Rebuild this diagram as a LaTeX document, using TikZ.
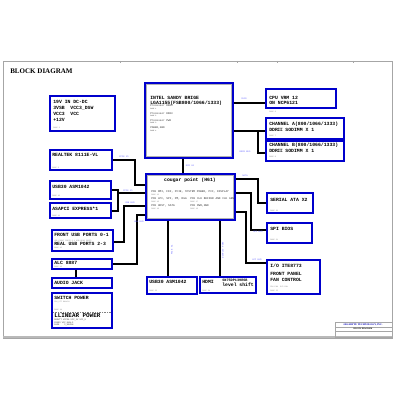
\documentclass[tikz,border=0pt]{standalone}
\usepackage{fontspec}
\setmainfont{Liberation Serif}
\setmonofont{Liberation Mono}
\usetikzlibrary{fit,positioning}

\tikzset{
  blk/.style={draw=blue!80!black, line width=0.9pt, inner sep=0pt},
  chip/.style={blk, line width=1pt},
  txt/.style={font=\ttfamily\bfseries\fontsize{3.4}{4}\selectfont, anchor=west, inner sep=0pt, align=left},
  small/.style={font=\ttfamily\fontsize{1.9}{2.3}\selectfont, anchor=west, inner sep=0pt, align=left, text=black!80},
  pg/.style={font=\ttfamily\fontsize{1.3}{1.5}\selectfont, anchor=west, inner sep=0pt, text=gray},
  bus/.style={font=\ttfamily\fontsize{1.6}{2}\selectfont, inner sep=0pt, text=blue!60},
  wire/.style={line width=0.8pt, black}
}

\begin{document}
\begin{tikzpicture}[x=0.025cm, y=-0.025cm]
\useasboundingbox[fill=white] (0,0) rectangle (400,400);

% sheet frame
\draw[gray!70, line width=0.4pt] (3,61) rectangle (392,338);
\draw[gray!55, line width=1.6pt] (3,337) -- (392,337);
\foreach \tx in {120,237,277,353} \draw[gray!70, line width=0.4pt] (\tx,61) -- (\tx,63);
\node[font=\bfseries\fontsize{5}{6}\selectfont, anchor=west, inner sep=0pt] (title) at (10,71) {BLOCK DIAGRAM};

% boxes
\node[blk, fit={(50,96) (115,131)}] (dcdc) {};
\node[chip, fit={(145,83) (233,158)}] (cpu) {};
\draw[gray!60, line width=0.4pt] ([shift={(2,2)}]cpu.north west) rectangle ([shift={(-2,-2)}]cpu.south east);
\node[blk, fit={(266,89) (336,108)}] (vrm) {};
\node[blk, fit={(266,118) (344,139)}] (chA) {};
\node[blk, fit={(266,141) (344,161)}] (chB) {};
\node[blk, fit={(50,150) (112,170)}] (lan) {};
\node[blk, fit={(50,181) (111,199)}] (usbl) {};
\node[blk, fit={(50,203) (111,218)}] (asap) {};
\node[blk, fit={(52,230) (113,251)}] (usbp) {};
\node[blk, fit={(52,259) (112,269)}] (alc) {};
\node[blk, fit={(52,278) (112,288)}] (jack) {};
\node[blk, fit={(52,293) (112,328)}] (pwr) {};
\node[chip, fit={(146,174) (235,220)}] (pch) {};
\draw[gray!60, line width=0.4pt] ([shift={(2,2)}]pch.north west) rectangle ([shift={(-2,-2)}]pch.south east);
\node[blk, fit={(267,193) (313,213)}] (sata) {};
\node[blk, fit={(267,223) (312,243)}] (spi) {};
\node[blk, fit={(267,260) (320,294)}] (sio) {};
\node[blk, fit={(147,277) (197,294)}] (usbb) {};
\node[blk, fit={(200,277) (256,293)}] (hdmi) {};
\node[draw=gray!70, line width=0.4pt, fit={(335,322) (392,337)}, inner sep=0pt] (tblock) {};

% box texts
\node[txt] (dcdc-a) at (53,101.5) {19V IN DC-DC};
\node[txt] (dcdc-b) at (53,114) {3VSB~~VCC3\_DSW\\VCC3~~VCC\\+12V};
\node[pg] (dcdc-p) at (53,128) {PAGE 5};
\node[txt] (cpu-a) at (150,101) {INTEL SANDY BRIGE\\LGA1155(FSB800/1066/1333)};
\node[small, align=left] (cpu-b) at (150,118) {Processor DDR3\\[-0.6pt]{\fontsize{1.2}{1.3}\selectfont PAGE 1}\\[1.2pt]Processor DDR3\\[-0.6pt]{\fontsize{1.2}{1.3}\selectfont PAGE 2}\\[1.2pt]Processor PWR\\[-0.6pt]{\fontsize{1.2}{1.3}\selectfont PAGE 3}\\[1.2pt]POWER,GND\\[-0.6pt]{\fontsize{1.2}{1.3}\selectfont PAGE 4}};
\node[txt] (vrm-a) at (269,100.5) {CPU VRM 12\\ON NCP6121};
\node[pg] (vrm-p) at (269,112) {PAGE 6};
\node[txt] (chA-a) at (269,126.5) {CHANNEL A(800/1066/1333)\\DDR\scalebox{0.55}[1]{III} SODIMM X 1};
\node[pg] (chA-p) at (269,136) {PAGE 7};
\node[txt] (chB-a) at (269,148) {CHANNEL B(800/1066/1333)\\DDR\scalebox{0.55}[1]{III} SODIMM X 1};
\node[pg] (chB-p) at (269,157) {PAGE 8};
\node[txt] (lan-a) at (52,154.5) {REALTEK 8111E-VL};
\node[pg] (lan-p) at (52,168) {PAGE 9};
\node[txt] (usbl-a) at (52,186.5) {USB30 ASM1042};
\node[pg] (usbl-p) at (52,196) {PAGE 10};
\node[txt] (asap-a) at (52,208.5) {ASAPCI EXPRESS*1};
\node[pg] (asap-p) at (52,216) {PAGE 11};
\node[txt] (usbp-a) at (54,235) {FRONT USB PORTS 0-1};
\node[pg] (usbp-q) at (54,240.5) {USB FRONT PORTS 0-1 USB REAR PORTS};
\node[txt] (usbp-b) at (54,244) {REAL USB PORTS 2-3};
\node[pg] (usbp-p) at (54,248) {PAGE 12};
\node[txt] (alc-a) at (54,263) {ALC 8887};
\node[pg] (alc-p) at (54,267.3) {PAGE 13};
\node[txt] (jack-a) at (54,283) {AUDIO JACK};
\node[txt] (pwr-a) at (54,297.5) {SWITCH POWER};
\node[pg] (pwr-b) at (54,302) {CPU\_VTT DUAL3V};
\node[pg] (pwr-c) at (54,310) {PAGE 14};
\draw[gray, line width=0.2pt, dash pattern=on 0.6pt off 0.6pt] (53,312) -- (111,312);
\node[txt, font=\ttfamily\bfseries\fontsize{4.2}{5}\selectfont] (pwr-d) at (54,316) {LLINEAR POWER};
\node[small, font=\ttfamily\fontsize{1.5}{1.8}\selectfont] (pwr-e) at (54,322.5) {DDRVTT VCCSA VCC\_1V VCC\_5\\FDDR3 VCC\_DUAL3\\PAGE~~~~1\_05VMH};
\node[txt, anchor=center] (pch-a) at (190,180) {cougar point (H61)};
\node[small, font=\ttfamily\fontsize{2}{2.3}\selectfont] (pch-b) at (151,192) {PCH DMI, FDI, PCIE, SYSTEM POWER, PCI, DISPLAY};
\node[small, font=\ttfamily\fontsize{2}{2.3}\selectfont] (pch-c) at (151,199) {PCH LPC, SPI, PM, RGA};
\node[small, font=\ttfamily\fontsize{2}{2.3}\selectfont] (pch-d) at (190,199) {PCH CLK BUFFER AND CLK GEN};
\node[small, font=\ttfamily\fontsize{2}{2.3}\selectfont] (pch-e) at (151,206) {PCH HOST, SATA};
\node[small, font=\ttfamily\fontsize{2}{2.3}\selectfont] (pch-f) at (190,206) {PCH PWR,GND};
\node[pg] (pch-p1) at (151,195) {PAGE 15};
\node[pg] (pch-p2) at (151,202) {PAGE 16};
\node[pg] (pch-p3) at (190,202) {PAGE 17};
\node[pg] (pch-p4) at (151,209) {PAGE 18};
\node[pg] (pch-p5) at (190,209) {PAGE 19};
\node[txt] (sata-a) at (270,200) {SERIAL ATA X2};
\node[pg] (sata-p) at (270,211) {PAGE 20};
\node[txt] (spi-a) at (270,229) {SPI BIOS};
\node[pg] (spi-p) at (270,240) {PAGE 21};
\node[txt] (sio-a) at (270,265.5) {I/O ITE8773};
\node[txt] (sio-b) at (270,277) {FRONT PANEL\\FAN CONTROL};
\node[pg] (sio-c) at (270,287) {CPU FAN~~SYS FAN};
\node[pg] (sio-p) at (270,291) {PAGE 22};
\node[txt] (usbb-a) at (149,282) {USB30 ASM1042};
\node[pg] (usbb-p) at (149,291) {PAGE 23};
\node[txt] (hdmi-a) at (202,281.5) {HDMI};
\node[txt, font=\ttfamily\bfseries\fontsize{2.5}{3}\selectfont] (hdmi-b) at (222,280) {SN75DP139RSB};
\node[txt] (hdmi-c) at (222,285) {level shift};
\node[pg] (hdmi-p) at (202,291) {PAGE 24};

% title block
\draw[gray!70, line width=0.3pt] (335,327) -- (392,327) (335,331) -- (392,331);
\node[font=\bfseries\fontsize{1.8}{2}\selectfont, text=blue!70!black, inner sep=0pt] (tb-a) at (363,324.5) {GIGABYTE TECHNOLOGY, INC.};
\node[font=\bfseries\fontsize{1.5}{2}\selectfont, inner sep=0pt] (tb-b) at (363,329) {BLOCK DIAGRAM};

% connections
\draw[wire] (cpu.east |- 0,103) -- (vrm.west |- 0,103);
\draw[wire] (cpu.east |- 0,131) -- (chA.west |- 0,131);
\draw[wire] (258,131) -- (258,153) -- (chB.west |- 0,153);
\draw[wire] (cpu.south -| 183,0) -- (pch.north -| 183,0);
\draw[wire] (lan.east |- 0,160) -- (135,160) -- (135,185) -- (pch.west |- 0,185);
\draw[wire] (usbl.east |- 0,190) -- (118,190) -- (118,193) -- (pch.west |- 0,193);
\draw[wire] (asap.east |- 0,211) -- (118,211) -- (118,193);
\draw[wire] (usbp.east |- 0,242) -- (124,242) -- (124,206) -- (pch.west |- 0,206);
\draw[wire] (alc.east |- 0,264) -- (137,264) -- (137,215) -- (pch.west |- 0,215);
\draw[wire] (alc.south -| 76,0) -- (jack.north -| 76,0);
\draw[wire] (pch.east |- 0,179) -- (258,179) -- (258,203) -- (sata.west |- 0,203);
\draw[wire] (pch.east |- 0,193) -- (251,193) -- (251,230) -- (spi.west |- 0,230);
\draw[wire] (pch.east |- 0,212) -- (246,212) -- (246,263) -- (sio.west |- 0,263);
\draw[wire] (pch.south -| 168,0) -- (usbb.north -| 168,0);
\draw[wire] (pch.south -| 220,0) -- (hdmi.north -| 220,0);

% bus names
\node[bus] (b-svid) at (244,99) {SVID};
\node[bus] (b-ddr) at (245,152) {DDR3 BUS};
\node[bus] (b-dmi) at (190,166) {DMI X4};
\node[bus] (b-pcie1) at (124,157) {PCIE X1};
\node[bus] (b-pcie2) at (128,190.5) {PCIE X1};
\node[bus] (b-usb) at (130,203) {USB BUS};
\node[bus] (b-hda) at (139,222) {HDA BUS};
\node[bus] (b-sata) at (245,176) {SATA};
\node[bus] (b-spi) at (258,232) {SPI BUS};
\node[bus] (b-lpc) at (257,260) {LPC BUS};
\node[bus, rotate=90] (b-pcie3) at (172,250) {PCIE X1};
\node[bus, rotate=90] (b-dp) at (223,250) {DISPLAY PORT};

\end{tikzpicture}
\end{document}
